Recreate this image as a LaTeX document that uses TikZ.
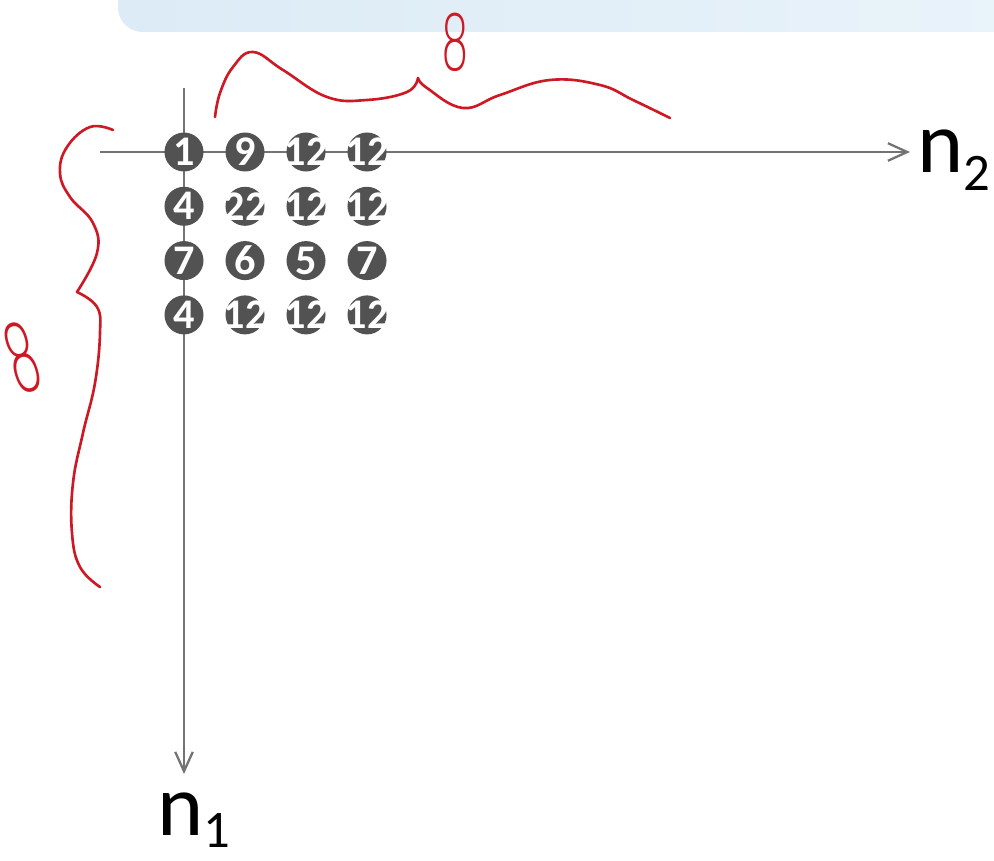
\documentclass[tikz,border=0pt]{standalone}
\usepackage{fontspec}
\setmainfont{Carlito}
\newfontfamily\handfont{DejaVu Sans ExtraLight}
\usepackage{tikz}
\usetikzlibrary{arrows.meta, positioning}

\definecolor{barblueL}{RGB}{220,235,246}
\definecolor{barblueR}{RGB}{233,243,250}
\definecolor{axisgray}{RGB}{115,115,115}
\definecolor{dotgray}{RGB}{82,82,82}
\definecolor{penred}{RGB}{205,25,35}

\begin{document}
\begin{tikzpicture}[
  x=0.01cm, y=-0.01cm,
  axis/.style={draw=axisgray, line width=0.65pt,
               -{Straight Barb[length=5.5pt, width=5pt]}},
  dot/.style={circle, fill=dotgray, minimum size=0.39cm, inner sep=0pt,
              text=white, font=\fontsize{12}{12}\selectfont\bfseries},
  pen/.style={draw=penred, line width=0.75pt, line cap=round, line join=round},
  handnum/.style={text=penred, inner sep=0pt},
  axislabel/.style={anchor=base west, inner sep=0pt,
                    font=\fontsize{25}{25}\selectfont}
]
  \useasboundingbox (0,0) rectangle (994,861);
  \clip (0,0) rectangle (994,861);

  % title bar
  \shade[left color=barblueL, right color=barblueR, rounded corners=7pt]
    (118,-40) rectangle (1030,32);

  % axes
  \coordinate (xfrom) at (100,152);
  \coordinate (xto)   at (910,152);
  \coordinate (yfrom) at (184,88);
  \coordinate (yto)   at (184,774);
  \draw[axis] (xfrom) -- (xto);
  \draw[axis] (yfrom) -- (yto);

  \node[axislabel] (n2) at (917,173) {n\raisebox{-5pt}{\fontsize{15}{15}\selectfont 2}};
  \node[axislabel] (n1) at (157,835) {n\raisebox{-3.5pt}{\fontsize{15}{15}\selectfont 1}};

  % samples
  \foreach \vals [count=\r] in {{1,9,12,12},{4,22,12,12},{7,6,5,7},{4,12,12,12}}
    \foreach \v [count=\c] in \vals
      \node[dot] (d\r\c) at ({184+61*(\c-1)},{152+54.3*(\r-1)}) {\makebox[0pt]{\v}};

  % red braces
  \draw[pen] plot[smooth, tension=0.7] coordinates
    {(215,117) (220,93) (233,67) (253,52) (283,70) (327,97) (367,100) (407,92) (418,78)};
  \draw[pen] plot[smooth, tension=0.7] coordinates
    {(418,78) (427,88) (463,108) (500,95) (550,80) (600,85) (633,100) (670,118)};
  \draw[pen] plot[smooth, tension=0.7] coordinates
    {(113,130) (90,127) (67,147) (60,173) (70,197) (93,223) (97,253) (77,292)};
  \draw[pen] plot[smooth, tension=0.7] coordinates
    {(77,292) (97,307) (100,333) (95,383) (83,433) (73,483) (72,533) (80,567) (100,587)};

  \node[handnum, xscale=0.6, font=\handfont\fontsize{22}{22}\selectfont] (eighttop) at (455,42) {8};
  \node[handnum, rotate=17, xscale=0.55, font=\handfont\fontsize{27}{27}\selectfont] (eightleft) at (22,358) {8};
\end{tikzpicture}
\end{document}
